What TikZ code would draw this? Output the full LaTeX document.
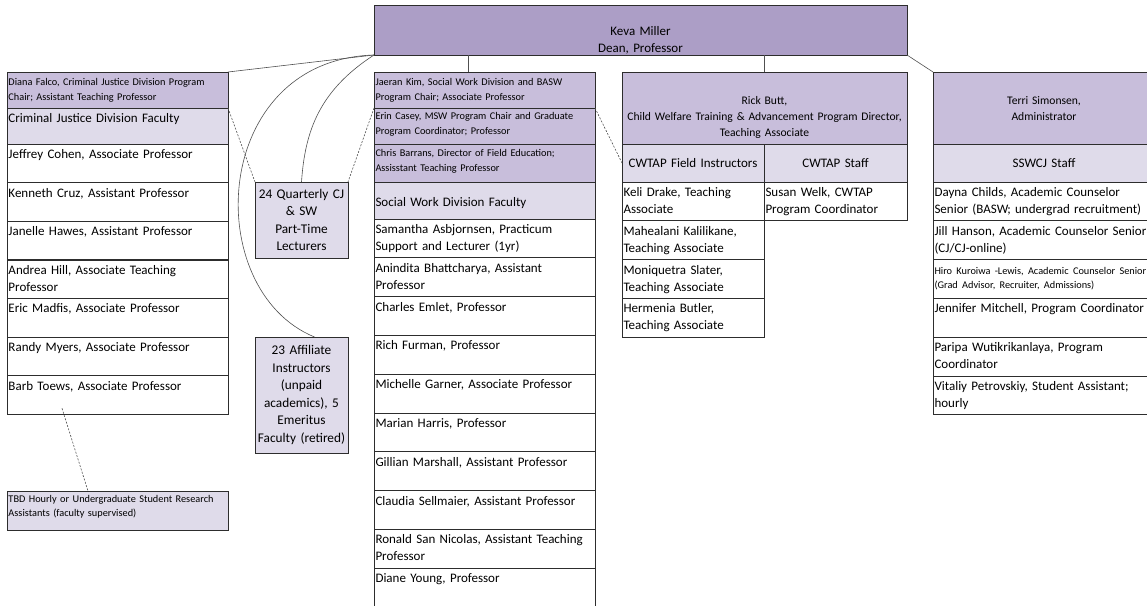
\documentclass[tikz,border=0pt]{standalone}
\usepackage{fontspec}
\setmainfont{Carlito}
\definecolor{deanfill}{RGB}{172,158,198}
\definecolor{headfill}{RGB}{200,190,219}
\definecolor{facfill}{RGB}{223,219,234}
\definecolor{linegray}{RGB}{45,45,45}
\definecolor{conngray}{RGB}{80,80,80}
\newcommand{\rowfont}{\fontsize{13}{17}\selectfont}
\newcommand{\chairfont}{\fontsize{10.3}{15}\selectfont}
\newcommand{\headfont}{\fontsize{11.6}{16}\selectfont}
\newcommand{\boxfont}{\fontsize{13.3}{17.5}\selectfont}
\newcommand{\notefont}{\fontsize{10.3}{14}\selectfont}
\begin{document}
\begin{tikzpicture}[x=1pt, y=-1pt,
    box/.style={draw=linegray, line width=0.8pt, anchor=north west, outer sep=0pt, inner xsep=1.5pt, inner ysep=0pt},
    cell/.style={box, align=left, text width=218pt, text height=14.5pt, text depth=24.2pt, font=\rowfont},
    chair/.style={box, fill=headfill, align=left, text width=218pt, font=\chairfont},
    head/.style={box, fill=headfill, align=center, text height=32pt, text depth=40pt, font=\headfont},
    sub/.style={box, fill=facfill, align=center, text height=23.5pt, text depth=14.5pt, font=\rowfont},
    extra/.style={box, fill=facfill, align=center, inner xsep=0.5pt, text width=92pt, font=\boxfont},
    conn/.style={draw=conngray, line width=0.6pt},
    dashconn/.style={conn, dash pattern=on 2pt off 1.5pt}]
    \useasboundingbox (0,0) rectangle (1147,605);
    \clip (0,0) rectangle (1147,605);

    \node[box, fill=deanfill, align=center, text width=530pt, text height=30.5pt, text depth=19.5pt, font=\rowfont] (dean) at (374,5) {Keva Miller\\Dean, Professor};

    % criminal justice
    \node[chair, text height=13.5pt, text depth=22.5pt] (cjchair) at (7,72) {Diana Falco, Criminal Justice Division Program\\Chair; Assistant Teaching Professor};
    \node[cell, fill=facfill, text depth=21.5pt] (cjfac) at (7,108) {Criminal Justice Division Faculty};
    \foreach \who [count=\i] in {{Jeffrey Cohen, Associate Professor}, {Kenneth Cruz, Assistant Professor}, {Janelle Hawes, Assistant Professor}, {Andrea Hill, Associate Teaching\\Professor}, {Eric Madfis, Associate Professor}, {Randy Myers, Associate Professor}, {Barb Toews, Associate Professor}}
        \node[cell] (cj\i) at (7,{144+(\i-1)*38.6}) {\who};
    \node[box, fill=facfill, align=left, text width=218pt, text height=11.5pt, text depth=27.5pt, font=\notefont] (tbd) at (7,491) {TBD Hourly or Undergraduate Student Research\\Assistants (faculty supervised)};

    \node[extra, minimum height=76pt] (lect) at (255,182) {24 Quarterly CJ\\\& SW\\Part-Time\\Lecturers};
    \node[extra, minimum height=116pt] (affil) at (255,337) {23 Affiliate\\Instructors\\(unpaid\\academics), 5\\Emeritus\\Faculty (retired)};

    % social work
    \node[chair, text height=13.5pt, text depth=22.5pt] (swchair) at (374,72) {Jaeran Kim, Social Work Division and BASW\\Program Chair; Associate Professor};
    \node[chair, text height=11pt, text depth=25pt] (mswchair) at (374,108) {Erin Casey, MSW Program Chair and Graduate\\Program Coordinator; Professor};
    \node[chair, text height=12.5pt, text depth=25.5pt] (field) at (374,144) {Chris Barrans, Director of Field Education;\\Assisstant Teaching Professor};
    \node[cell, fill=facfill, text height=24pt, text depth=13pt] (swfac) at (374,182) {Social Work Division Faculty};
    \foreach \who [count=\i] in {{Samantha Asbjornsen, Practicum\\Support and Lecturer (1yr)}, {Anindita Bhattcharya, Assistant\\Professor}, {Charles Emlet, Professor}, {Rich Furman, Professor}, {Michelle Garner, Associate Professor}, {Marian Harris, Professor}, {Gillian Marshall, Assistant Professor}, {Claudia Sellmaier, Assistant Professor}, {Ronald San Nicolas, Assistant Teaching\\Professor}, {Diane Young, Professor}}
        \node[cell] (sw\i) at (374,{219+(\i-1)*38.8}) {\who};

    % cwtap
    \node[head, text width=282pt] (cwtap) at (622,72) {Rick Butt,\\Child Welfare Training \& Advancement Program Director,\\Teaching Associate};
    \node[sub, text width=139pt] (cwfield) at (622,144) {CWTAP Field Instructors};
    \node[sub, text width=140pt] (cwstaff) at (cwfield.north east) {CWTAP Staff};
    \foreach \who [count=\i] in {{Keli Drake, Teaching\\Associate}, {Mahealani Kalilikane,\\Teaching Associate}, {Moniquetra Slater,\\Teaching Associate}, {Hermenia Butler,\\Teaching Associate}}
        \node[cell, text width=139pt] (cwf\i) at (622,{182+(\i-1)*38.8}) {\who};
    \node[cell, text width=140pt] (cws1) at (cwf1.north east) {Susan Welk, CWTAP\\Program Coordinator};

    % staff
    \node[head, text width=219pt] (admin) at (933,72) {Terri Simonsen,\\Administrator};
    \node[sub, text width=219pt] (staff) at (933,144) {SSWCJ Staff};
    \foreach \who [count=\i] in {{Dayna Childs, Academic Counselor\\Senior (BASW; undergrad recruitment)}, {Jill Hanson, Academic Counselor Senior\\(CJ/CJ-online)}, {\notefont Hiro Kuroiwa -Lewis, Academic Counselor Senior\\(Grad Advisor, Recruiter, Admissions)\endgraf}, {Jennifer Mitchell, Program Coordinator}, {Paripa Wutikrikanlaya, Program\\Coordinator}, {Vitaliy Petrovskiy, Student Assistant;\\hourly}}
        \node[cell, text width=219pt] (st\i) at (933,{182+(\i-1)*38.8}) {\who};

    % connectors
    \coordinate (swtop) at ([xshift=94pt]swchair.north west);
    \draw[conn] (dean.south west) -- (cjchair.north east);
    \draw[conn] (swtop) -- (swtop |- dean.south);
    \draw[conn] (cwtap.north) -- (cwtap.north |- dean.south);
    \draw[conn] (dean.south east) -- (admin.north west);
    \draw[conn] (dean.south west) .. controls (320,90) and (305,130) .. (lect.north);
    \draw[conn] (dean.south west) .. controls (210,60) and (200,290) .. ([xshift=13pt]affil.north);
    \draw[dashconn] (cjfac.north east) -- (lect.north west);
    \draw[dashconn] (mswchair.north west) -- (lect.north east);
    \draw[dashconn] (mswchair.north east) -- (cwfield.west);
    \draw[dashconn] ([xshift=55pt,yshift=6pt]cj7.south west) -- ([xshift=81pt]tbd.north west);
\end{tikzpicture}
\end{document}
